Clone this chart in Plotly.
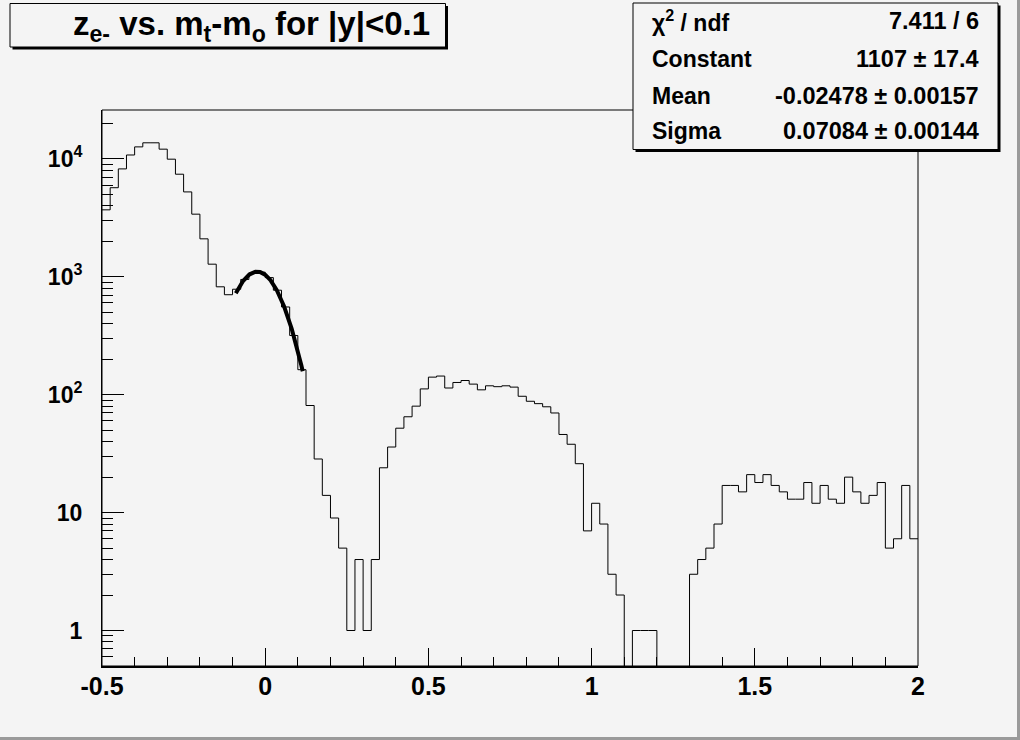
import numpy as np
import plotly.graph_objects as go

# ---------------- data ----------------
bin_lo = -0.5
bin_hi = 2.0
n_bins = 100
counts = [
    3700, 5700, 8230, 10800, 12650, 13700, 13700, 12100, 9950, 7420,
    5250, 3400, 2100, 1280, 823, 705, 785, 950, 1075, 1095,
    985, 770, 555, 318, 163, 81, 28.5, 14, 9, 5,
    1, 4, 1, 4, 24, 36, 52, 65, 80, 112,
    141, 144, 114, 127, 132, 123, 110, 119, 117, 119,
    116, 97, 88, 84, 79, 70, 46, 38, 26, 7,
    12, 8, 3, 2, 0, 1, 1, 1, 0, 0,
    0, 0, 3, 4, 5, 8, 17, 17, 15, 21,
    18, 21, 17, 15, 13, 13, 18, 12, 17, 13,
    12, 20, 15, 12, 14, 18, 5, 6, 17, 6,
]
fit_constant = 1107.0
fit_mean = -0.02478
fit_sigma = 0.07084
fit_lo = -0.09
fit_hi = 0.115

title_text = "z<sub>e-</sub> vs. m<sub>t</sub>-m<sub>o</sub> for |y|&lt;0.1"
stats_labels = ["χ<sup>2</sup> / ndf", "Constant", "Mean", "Sigma"]
stats_values = ["7.411 / 6", "1107 ± 17.4", "-0.02478 ± 0.00157", "0.07084 ± 0.00144"]
xtick_vals = [-0.5, 0, 0.5, 1, 1.5, 2]
xtick_text = ["-0.5", "0", "0.5", "1", "1.5", "2"]
ytick_vals = [1, 10, 100, 1000, 10000]
ytick_text = ["1", "10", "10<sup>2</sup>", "10<sup>3</sup>", "10<sup>4</sup>"]

# ---------------- layout constants ----------------
W, H = 1020, 740
L, R, T, B = 102, 918, 110, 666
BG = "#f4f4f4"
FONT = "Liberation Sans, Arial, Helvetica, sans-serif"


def px(x):
    return (x - L) / (R - L)


def py(y):
    return (B - y) / (B - T)


edges = np.linspace(bin_lo, bin_hi, n_bins + 1)
floor = 1e-3
ydraw = [c if c > 0 else floor for c in counts]
ydraw = ydraw + [ydraw[-1]]

fig = go.Figure()
fig.add_trace(go.Scatter(
    x=edges, y=ydraw, mode="lines", line=dict(color="black", width=1, shape="hv"),
    hoverinfo="skip", showlegend=False,
))

xf = np.linspace(fit_lo, fit_hi, 200)
yf = fit_constant * np.exp(-0.5 * ((xf - fit_mean) / fit_sigma) ** 2)
fig.add_trace(go.Scatter(
    x=xf, y=yf, mode="lines", line=dict(color="black", width=4),
    hoverinfo="skip", showlegend=False,
))

ymin_log, ymax_log = -0.301, 4.415
yminor = [m * 10 ** e for e in range(-1, 5) for m in range(2, 10)
          if ymin_log <= np.log10(m * 10 ** e) <= ymax_log]

fig.update_layout(
    width=W, height=H, autosize=False,
    margin=dict(l=L, r=W - R, t=T, b=H - B, pad=0),
    paper_bgcolor=BG, plot_bgcolor=BG,
    font=dict(family=FONT, color="black"),
    showlegend=False,
    xaxis=dict(
        range=[bin_lo, bin_hi], showgrid=False, zeroline=False,
        tickmode="array", tickvals=xtick_vals, ticktext=xtick_text,
        ticks="inside", ticklen=18, tickwidth=1, tickcolor="black",
        tickfont=dict(family=FONT, size=25, weight="bold", color="black"),
        showline=True, linecolor="black", linewidth=2,
        ticklabelstandoff=-3,
        minor=dict(tickmode="linear", tick0=-0.5, dtick=0.1, ticks="inside",
                   ticklen=9, tickwidth=1, tickcolor="black", showgrid=False),
    ),
    yaxis=dict(
        type="log", range=[ymin_log, ymax_log], showgrid=False, zeroline=False,
        tickmode="array", tickvals=ytick_vals, ticktext=ytick_text,
        ticks="inside", ticklen=22, tickwidth=1, tickcolor="black",
        tickfont=dict(family=FONT, size=23, weight="bold", color="black"),
        showline=True, linecolor="black", linewidth=1,
        ticklabelstandoff=14,
        minor=dict(tickmode="array", tickvals=yminor, ticks="inside",
                   ticklen=11, tickwidth=1, tickcolor="black", showgrid=False),
    ),
)

shapes = []
# plot frame
shapes.append(dict(type="rect", xref="paper", yref="paper", x0=0, y0=0, x1=1, y1=1,
                   line=dict(color="black", width=1), fillcolor="rgba(0,0,0,0)"))
# canvas bevel (right / bottom)
shapes.append(dict(type="rect", xref="paper", yref="paper", x0=px(1017), x1=px(1021),
                   y0=py(741), y1=py(-1), line=dict(width=0), fillcolor="#9a9a9a"))
shapes.append(dict(type="rect", xref="paper", yref="paper", x0=px(-1), x1=px(1021),
                   y0=py(741), y1=py(737), line=dict(width=0), fillcolor="#9a9a9a"))


def pave(x0, y0, x1, y1):
    # shadow
    shapes.append(dict(type="rect", xref="paper", yref="paper",
                       x0=px(x0 + 2.5), x1=px(x1 + 2.5), y0=py(y1 + 2.5), y1=py(y0 + 2.5),
                       line=dict(width=0), fillcolor="black"))
    shapes.append(dict(type="rect", xref="paper", yref="paper",
                       x0=px(x0), x1=px(x1), y0=py(y1), y1=py(y0),
                       line=dict(color="black", width=1), fillcolor=BG))


pave(10, 3.5, 445.5, 47)
pave(633, 3, 998, 149.5)
fig.update_layout(shapes=shapes)

ann = []
ann.append(dict(xref="paper", yref="paper", x=px(432), y=py(26), text=title_text,
                xanchor="right", yanchor="middle", showarrow=False,
                font=dict(family=FONT, size=33, weight="bold", color="black")))
row_y = [21, 59, 96, 131]
for lab, val, yy in zip(stats_labels, stats_values, row_y):
    ann.append(dict(xref="paper", yref="paper", x=px(650), y=py(yy), text=lab,
                    xanchor="left", yanchor="middle", showarrow=False,
                    font=dict(family=FONT, size=23, weight="bold", color="black")))
    ann.append(dict(xref="paper", yref="paper", x=px(981), y=py(yy), text=val,
                    xanchor="right", yanchor="middle", showarrow=False,
                    font=dict(family=FONT, size=23.5, weight="bold", color="black")))
fig.update_layout(annotations=ann)

fig.write_html(
    "out.html",
    config={"displayModeBar": False},
    post_script="document.body.style.margin='0';document.body.style.padding='0';"
                "document.body.style.background='#f4f4f4';",
)
